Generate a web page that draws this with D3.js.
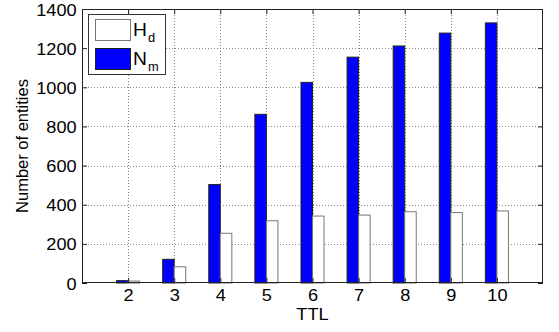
<!DOCTYPE html>
<html>
<head>
<meta charset="utf-8">
<script src="https://cdn.jsdelivr.net/npm/d3@7"></script>
<style>
  body { margin: 0; background: #fff; }
  svg { display: block; font-family: "Liberation Sans", Arial, sans-serif; }
</style>
</head>
<body>
<svg id="chart" width="559" height="332"></svg>
<script>
// chart data
var ttl = [2, 3, 4, 5, 6, 7, 8, 9, 10];
var nm = [12, 121, 503, 862, 1025, 1154, 1211, 1277, 1329];
var hd = [10, 83, 254, 318, 342, 347, 364, 360, 368];
var yTicks = [0, 200, 400, 600, 800, 1000, 1200, 1400];

var svg = d3.select("#chart"),
    margin = { top: 9, right: 16, bottom: 49, left: 82 },
    width = 559 - margin.left - margin.right,
    height = 332 - margin.top - margin.bottom,
    g = svg.append("g").attr("transform", "translate(" + margin.left + "," + margin.top + ")");

var x = d3.scaleLinear().domain([1, 11]).range([0, width]),
    y = d3.scaleLinear().domain([0, 1400]).range([height, 0]);

var stretch = "scale(1.07,1)";

// grid
g.append("g").selectAll("line.gx")
    .data(ttl).enter().append("line")
    .attr("x1", function (d) { return Math.round(x(d)) + 0.5; })
    .attr("x2", function (d) { return Math.round(x(d)) + 0.5; })
    .attr("y1", 0).attr("y2", height)
    .attr("stroke", "#888").attr("stroke-dasharray", "1,2");

g.append("g").selectAll("line.gy")
    .data(yTicks.slice(1, -1)).enter().append("line")
    .attr("y1", function (d) { return Math.round(y(d)) + 0.5; })
    .attr("y2", function (d) { return Math.round(y(d)) + 0.5; })
    .attr("x1", 0).attr("x2", width)
    .attr("stroke", "#888").attr("stroke-dasharray", "1,2");

// bars
var bw = x(1.25) - x(1);

g.append("g").selectAll("rect")
    .data(ttl).enter().append("rect")
    .attr("x", function (d) { return x(d) - bw; })
    .attr("y", function (d, i) { return y(nm[i]); })
    .attr("width", bw)
    .attr("height", function (d, i) { return y(0) - y(nm[i]); })
    .attr("fill", "#0000ff")
    .attr("stroke", "#222").attr("stroke-width", 1);

g.append("g").selectAll("rect")
    .data(ttl).enter().append("rect")
    .attr("x", function (d) { return x(d); })
    .attr("y", function (d, i) { return y(hd[i]); })
    .attr("width", bw)
    .attr("height", function (d, i) { return y(0) - y(hd[i]); })
    .attr("fill", "#fff")
    .attr("stroke", "#777").attr("stroke-width", 1);

// axes
var xAxis = g.append("g")
    .attr("transform", "translate(0," + height + ")")
    .call(d3.axisBottom(x).tickValues(ttl).tickSize(-5).tickPadding(6).tickFormat(d3.format("d")));
var xTop = g.append("g")
    .call(d3.axisTop(x).tickValues(ttl).tickSize(-5).tickFormat(""));
var yAxis = g.append("g")
    .call(d3.axisLeft(y).tickValues(yTicks).tickSize(-5).tickPadding(5).tickFormat(d3.format("d")));
var yRight = g.append("g")
    .attr("transform", "translate(" + width + ",0)")
    .call(d3.axisRight(y).tickValues(yTicks).tickSize(-5).tickFormat(""));

[xAxis, xTop, yAxis, yRight].forEach(function (a) {
    a.select(".domain").remove();
    a.selectAll("line").attr("stroke", "#222");
    a.selectAll("text")
        .attr("fill", "#000")
        .style("font-size", "17px")
        .attr("transform", stretch);
});
yAxis.selectAll("text").attr("dy", "0.36em");

g.append("rect")
    .attr("x", 0.5).attr("y", 0.5)
    .attr("width", width - 1).attr("height", height - 1)
    .attr("fill", "none").attr("stroke", "#222");

// labels
svg.append("text")
    .attr("transform", "translate(" + (margin.left + width / 2) + ",320) " + stretch)
    .attr("text-anchor", "middle")
    .style("font-size", "17px")
    .text("TTL");

svg.append("text")
    .attr("transform", "translate(28," + (margin.top + height / 2) + ") rotate(-90)")
    .attr("text-anchor", "middle")
    .style("font-size", "16.5px")
    .text("Number of entities");

// legend
var legend = svg.append("g").attr("transform", "translate(88,14)");
legend.append("rect")
    .attr("x", 0.5).attr("y", 0.5).attr("width", 77).attr("height", 60)
    .attr("fill", "#fff").attr("stroke", "#333");

var legendItems = [
    { name: "H", sub: "d", fill: "#fff", stroke: "#777" },
    { name: "N", sub: "m", fill: "#0000ff", stroke: "#222" }
];

var item = legend.selectAll("g.item")
    .data(legendItems).enter().append("g")
    .attr("transform", function (d, i) { return "translate(0," + (i * 29) + ")"; });

item.append("rect")
    .attr("x", 7.5).attr("y", 5.5).attr("width", 35).attr("height", 21)
    .attr("fill", function (d) { return d.fill; })
    .attr("stroke", function (d) { return d.stroke; });

var lt = item.append("text")
    .attr("transform", "translate(45,22) " + stretch)
    .style("font-size", "18px");
lt.append("tspan").text(function (d) { return d.name; });
lt.append("tspan")
    .attr("dx", 1)
    .attr("dy", 6)
    .style("font-size", "12px")
    .text(function (d) { return d.sub; });
</script>
</body>
</html>
